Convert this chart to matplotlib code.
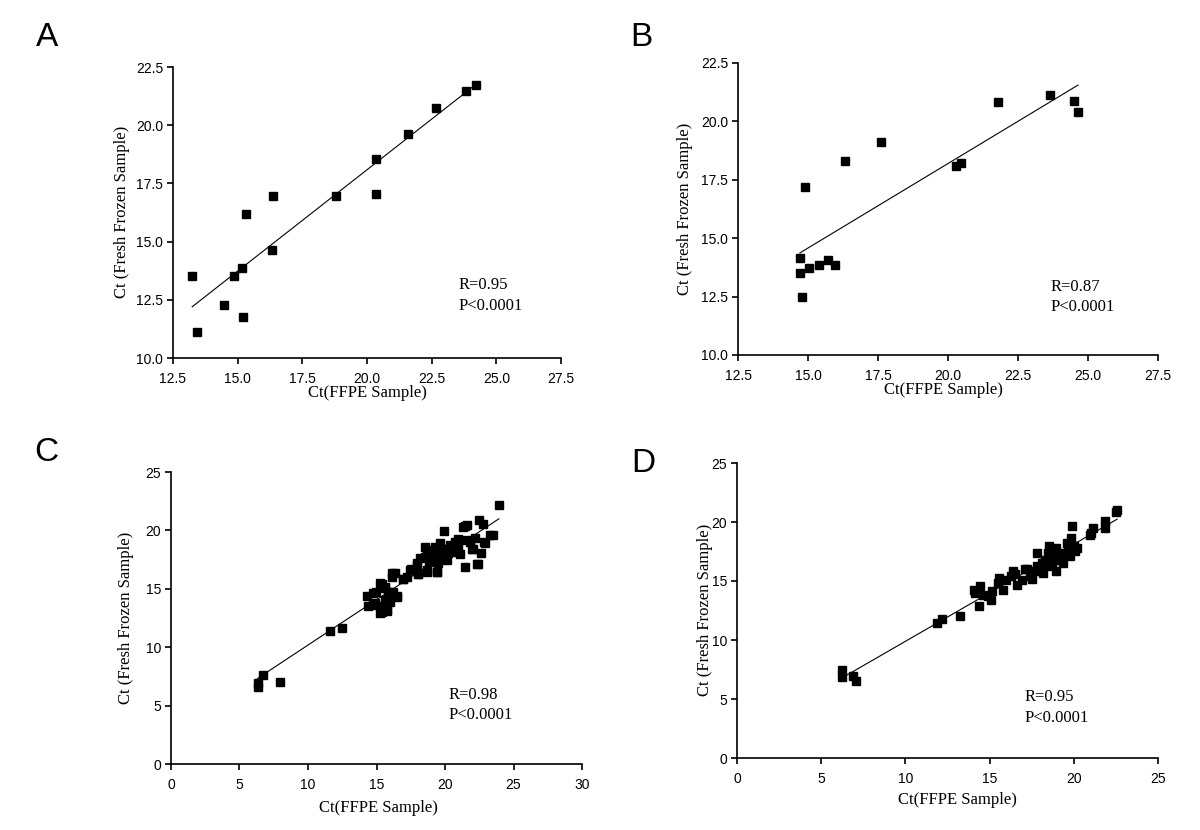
import numpy as np
import matplotlib
matplotlib.use("Agg")
import matplotlib.pyplot as plt

# ---------------- data ----------------
a_x = [13.24, 13.44, 14.47, 14.85, 15.16, 15.21, 15.34, 16.32, 16.38, 18.80,
       20.36, 20.36, 21.57, 22.67, 23.84, 24.23]
a_y = [13.52, 11.12, 12.27, 13.52, 13.87, 11.74, 16.20, 14.64, 16.95, 16.96,
       18.54, 17.06, 19.63, 20.73, 21.48, 21.74]

b_x = [14.71, 14.71, 14.79, 14.89, 15.05, 15.39, 15.71, 15.96, 16.33, 17.62,
       20.28, 20.47, 21.80, 23.66, 24.51, 24.64]
b_y = [14.15, 13.52, 12.48, 17.20, 13.73, 13.86, 14.06, 13.86, 18.30, 19.11,
       18.08, 18.22, 20.82, 21.15, 20.88, 20.39]

c_x = [6.32, 6.32, 6.69, 7.98, 11.6, 12.5, 14.28, 14.4, 14.77, 14.76, 14.88, 14.95,
       15.25, 15.25, 15.38, 15.38, 15.5, 15.6, 15.62, 15.6, 15.73, 15.75, 15.86, 15.86,
       15.98, 16.1, 16.1, 16.22, 16.34, 16.46, 16.47, 16.95, 16.96, 17.24, 17.45, 17.49,
       17.92, 17.98, 18.04, 18.05, 18.17, 18.53, 18.53, 18.65, 18.66, 18.66, 18.8, 18.9,
       19.0, 19.14, 19.2, 19.26, 19.38, 19.38, 19.44, 19.5, 19.55, 19.62, 19.75, 19.85,
       19.92, 20.11, 20.11, 20.25, 20.35, 20.5, 20.6, 20.72, 20.85, 20.96, 20.97, 21.08,
       21.2, 21.33, 21.46, 21.57, 21.45, 21.81, 21.82, 21.94, 22.07, 22.18, 22.36, 22.43,
       22.5, 22.6, 22.78, 22.87, 22.9, 23.32, 23.47, 23.93]
c_y = [6.92, 6.63, 7.63, 6.98, 11.36, 11.62, 14.4, 13.5, 13.6, 14.6, 13.75, 14.7,
       15.46, 12.96, 15.45, 13.03, 13.52, 15.18, 15.03, 14.04, 13.18, 13.1, 14.75, 14.03,
       13.9, 16.03, 16.36, 14.75, 16.32, 14.38, 14.31, 15.8, 15.88, 16.03, 16.65, 16.69,
       17.17, 17.0, 16.26, 16.3, 17.6, 18.59, 17.74, 16.46, 16.6, 18.2, 17.3, 18.17,
       17.8, 17.45, 18.3, 18.59, 18.02, 16.46, 16.45, 17.17, 17.8, 18.94, 18.02, 18.4,
       19.96, 18.45, 17.45, 18.1, 18.74, 18.3, 18.17, 19.02, 18.6, 18.45, 19.3, 18.02,
       19.22, 20.3, 20.4, 20.44, 16.83, 19.02, 19.15, 18.45, 18.45, 19.31, 17.1, 17.11,
       20.93, 18.07, 20.59, 19.01, 18.94, 19.59, 19.59, 22.21]

d_x = [6.23, 6.23, 6.86, 7.06, 11.88, 12.15, 13.24, 14.07, 14.13, 14.35, 14.43, 14.62,
       14.88, 15.08, 15.12, 15.51, 15.57, 15.77, 16.0, 16.3, 16.4, 16.6, 16.9, 17.1,
       17.39, 17.49, 17.69, 17.83, 17.98, 18.18, 18.28, 18.38, 18.48, 18.54, 18.68, 18.77,
       18.93, 18.97, 19.17, 19.37, 19.47, 19.57, 19.66, 19.76, 19.86, 19.92, 19.96, 20.06,
       20.2, 20.95, 21.05, 21.15, 21.84, 21.84, 22.49, 22.57,
       14.3, 16.5, 17.2, 18.1, 18.6, 19.1, 19.3, 19.8, 20.0, 18.4, 17.8]
d_y = [7.43, 6.86, 6.98, 6.55, 11.44, 11.78, 12.0, 14.27, 13.98, 12.85, 14.55, 13.84,
       13.7, 13.42, 14.12, 14.83, 15.25, 14.27, 15.11, 15.45, 15.82, 14.69, 15.11, 16.05,
       15.4, 15.17, 15.82, 17.37, 16.1, 15.68, 16.81, 16.24, 17.37, 17.94, 16.53, 17.09,
       15.82, 17.8, 16.81, 16.53, 17.37, 18.22, 17.66, 17.09, 18.64, 19.63, 17.94, 17.51,
       17.8, 18.93, 19.07, 19.49, 20.06, 19.49, 20.82, 21.05,
       14.1, 15.6, 16.0, 16.5, 17.0, 17.4, 16.9, 17.6, 18.0, 16.6, 16.3]

stats = [("R=0.95", "P<0.0001"), ("R=0.87", "P<0.0001"),
         ("R=0.98", "P<0.0001"), ("R=0.95", "P<0.0001")]
letters = ["A", "B", "C", "D"]
xlabel = "Ct(FFPE Sample)"
ylabel = "Ct (Fresh Frozen Sample)"

# ---------------- layout ----------------
W, H = 1200, 830
fig = plt.figure(figsize=(W / 100, H / 100), dpi=100)

def px_axes(l, t, r, b):
    return fig.add_axes([l / W, 1 - b / H, (r - l) / W, (b - t) / H])

panels = [
    dict(box=(173, 67, 561, 358), x=a_x, y=a_y, xlim=(12.5, 27.5), xt=np.arange(12.5, 27.6, 2.5),
         ylim=(10, 22.5), yt=np.arange(10, 22.6, 2.5), fmt="{:.1f}", ms=5.2,
         txt=(0.737, 0.25, 0.18), let=(47, 38), ylab=(122, 212), xlab=(367, 393)),
    dict(box=(738, 63, 1158, 355), x=b_x, y=b_y, xlim=(12.5, 27.5), xt=np.arange(12.5, 27.6, 2.5),
         ylim=(10, 22.5), yt=np.arange(10, 22.6, 2.5), fmt="{:.1f}", ms=5.2,
         txt=(0.743, 0.233, 0.165), let=(641, 38), ylab=(685, 209), xlab=(943, 390)),
    dict(box=(171, 472, 582, 764), x=c_x, y=c_y, xlim=(0, 30), xt=np.arange(0, 31, 5),
         ylim=(0, 25), yt=np.arange(0, 26, 5), fmt="{:.0f}", ms=5.6,
         txt=(0.675, 0.237, 0.168), let=(46, 452), ylab=(126, 618), xlab=(378, 808)),
    dict(box=(737, 463, 1158, 758), x=d_x, y=d_y, xlim=(0, 25), xt=np.arange(0, 26, 5),
         ylim=(0, 25), yt=np.arange(0, 26, 5), fmt="{:.0f}", ms=5.6,
         txt=(0.684, 0.207, 0.136), let=(643, 463), ylab=(705, 610), xlab=(957, 800)),
]

serif = ["Liberation Serif", "DejaVu Serif"]
sans = ["Liberation Sans", "DejaVu Sans"]

for p, (r_s, p_s), let in zip(panels, stats, letters):
    ax = px_axes(*p["box"])
    x = np.array(p["x"]); y = np.array(p["y"])
    ax.plot(x, y, linestyle="none", marker="s", ms=p["ms"], color="black", mec="black")
    k, c0 = np.polyfit(x, y, 1)
    xx = np.array([x.min(), x.max()])
    ax.plot(xx, k * xx + c0, color="black", lw=0.8)
    ax.set_xlim(*p["xlim"]); ax.set_ylim(*p["ylim"])
    ax.set_xticks(p["xt"]); ax.set_yticks(p["yt"])
    ax.set_xticklabels([p["fmt"].format(v) for v in p["xt"]], family=sans, fontsize=10)
    ax.set_yticklabels([p["fmt"].format(v) for v in p["yt"]], family=sans, fontsize=10)
    for s in ("top", "right"):
        ax.spines[s].set_visible(False)
    for s in ("left", "bottom"):
        ax.spines[s].set_linewidth(1.2)
    ax.tick_params(direction="out", length=4, width=1.2, colors="black")
    ax.tick_params(axis="x", pad=6)
    ax.tick_params(axis="y", pad=3)
    tx, ry, py = p["txt"]
    ax.text(tx, ry, r_s, transform=ax.transAxes, ha="left", va="center",
            family=serif, fontsize=12)
    ax.text(tx, py, p_s, transform=ax.transAxes, ha="left", va="center",
            family=serif, fontsize=12)
    lx, ly = p["let"]
    fig.text(lx / W, 1 - ly / H, let, ha="center", va="center", family=sans, fontsize=24)
    yx, yy = p["ylab"]
    fig.text(yx / W, 1 - yy / H, ylabel, rotation=90, ha="center", va="center",
             family=serif, fontsize=12)
    xx_, xy_ = p["xlab"]
    fig.text(xx_ / W, 1 - xy_ / H, xlabel, ha="center", va="center",
             family=serif, fontsize=12)

fig.savefig("out.png", dpi=100, facecolor="white")
